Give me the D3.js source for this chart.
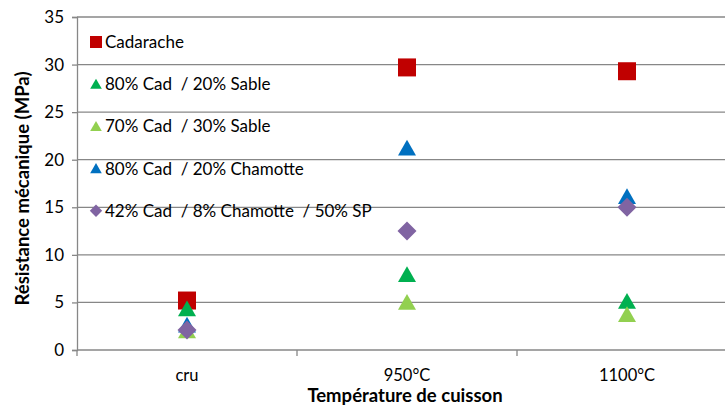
<!DOCTYPE html>
<html>
<head>
<meta charset="utf-8">
<script src="https://cdn.jsdelivr.net/npm/d3@7"></script>
<style>
  body { margin: 0; background: #fff; }
  svg { display: block; }
  text { font-family: Lato, "Open Sans", sans-serif; fill: #000; white-space: pre; }
</style>
</head>
<body>
<svg id="chart" width="725" height="406"></svg>
<script>
// Firing temperatures (categories)
const categories = ["cru", "950°C", "1100°C"];

// Mechanical strength (MPa) for each formulation
const seriesNames = [
  "Cadarache",
  "80% Cad  / 20% Sable",
  "70% Cad  / 30% Sable",
  "80% Cad  / 20% Chamotte",
  "42% Cad  / 8% Chamotte  / 50% SP"
];
const cadarache   = [5.2, 29.7, 29.3];
const sable20     = [4.3, 7.9, 5.1];
const sable30     = [2.0, 5.0, 3.7];
const chamotte20  = [2.6, 21.2, 16.1];
const mixSP       = [2.1, 12.5, 15.0];

const yTicks = [0, 5, 10, 15, 20, 25, 30, 35];

const seriesValues = [cadarache, sable20, sable30, chamotte20, mixSP];
const colors = ["#C00000", "#00B050", "#92D050", "#0070C0", "#8064A2"];

// Marker shapes, centred on their bounding box; s = half-width in px
const squarePath = s => `M${-s},${-s}H${s}V${s}H${-s}Z`;
const trianglePath = s => `M0,${-s * 0.95}L${s},${s * 0.8}L${-s},${s * 0.8}Z`;
const diamondPath = s => `M0,${-s}L${s},0L0,${s}L${-s},0Z`;
const shapes = [squarePath, trianglePath, trianglePath, trianglePath, diamondPath];
const markerHalf = [9, 9, 9, 9, 9.5];
const legendHalf = [6, 5.8, 5.8, 5.8, 6.2];

const svg = d3.select("#chart");
const margin = { left: 77, top: 17, right: -12, bottom: 56 };
const W = 725, H = 406;

const x = d3.scaleBand().domain(categories)
  .range([margin.left, W - margin.right]).paddingInner(0).paddingOuter(0);
const y = d3.scaleLinear().domain([0, 35]).range([H - margin.bottom, margin.top]);

// Horizontal gridlines
svg.append("g").selectAll("line").data(yTicks.filter(d => d > 0)).join("line")
  .attr("x1", margin.left).attr("x2", W)
  .attr("y1", d => y(d)).attr("y2", d => y(d))
  .attr("stroke", "#878787").attr("stroke-width", 1.3);

// Y axis
const yAxis = svg.append("g").attr("transform", `translate(${margin.left},0)`)
  .call(d3.axisLeft(y).tickValues(yTicks).tickSize(5).tickPadding(8));
yAxis.select(".domain").attr("stroke", "#878787").attr("stroke-width", 1.3);
yAxis.selectAll(".tick line").attr("stroke", "#878787").attr("stroke-width", 1.3);
yAxis.selectAll("text").attr("font-size", 17).style("font-family", "Lato, sans-serif").attr("fill", "#000");

// X axis: ticks at category boundaries
const xAxisG = svg.append("g").attr("transform", `translate(0,${y(0)})`);
xAxisG.append("line").attr("x1", margin.left).attr("x2", W)
  .attr("stroke", "#878787").attr("stroke-width", 1.3);
const boundaries = categories.map(c => x(c));
xAxisG.selectAll(".tk").data(boundaries).join("line")
  .attr("x1", d => d).attr("x2", d => d).attr("y1", 0).attr("y2", 6)
  .attr("stroke", "#878787").attr("stroke-width", 1.3);
xAxisG.selectAll(".lbl").data(categories).join("text")
  .attr("x", d => x(d) + x.bandwidth() / 2).attr("y", 31)
  .attr("text-anchor", "middle").attr("font-size", 16.5).text(d => d);

// Axis titles
svg.append("text").attr("x", 405).attr("y", 402)
  .attr("text-anchor", "middle").attr("font-size", 18.5).attr("font-weight", "bold")
  .text("Température de cuisson");
svg.append("text")
  .attr("transform", `translate(29,${(y(0) + y(35)) / 2 + 5}) rotate(-90)`)
  .attr("text-anchor", "middle").attr("font-size", 18.5).attr("font-weight", "bold")
  .text("Résistance mécanique (MPa)");

// Markers
seriesValues.forEach((vals, i) => {
  svg.append("g").selectAll("path").data(vals).join("path")
    .attr("d", shapes[i](markerHalf[i]))
    .attr("transform", (d, j) => `translate(${x(categories[j]) + x.bandwidth() / 2},${y(d)})`)
    .attr("fill", colors[i]);
});

// Legend
const legend = svg.append("g");
seriesNames.forEach((name, i) => {
  const ly = 42 + i * 42.2;
  legend.append("path")
    .attr("d", shapes[i](legendHalf[i]))
    .attr("transform", `translate(96,${ly})`)
    .attr("fill", colors[i]);
  legend.append("text").attr("x", 105).attr("y", ly + 6)
    .attr("font-size", 17).text(name);
});
</script>
</body>
</html>
